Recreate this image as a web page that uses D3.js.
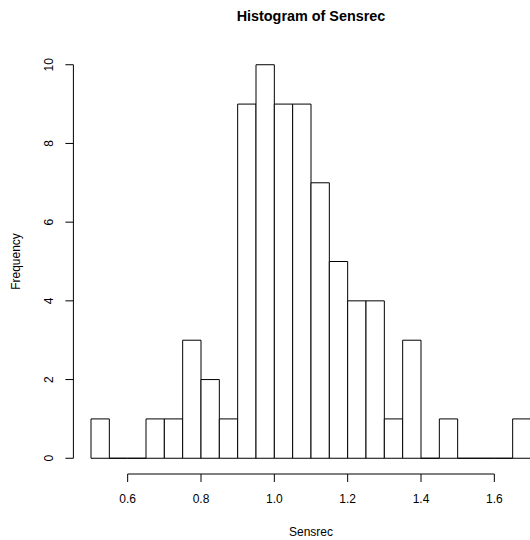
<!DOCTYPE html>
<html>
<head>
<meta charset="utf-8">
<script src="https://cdn.jsdelivr.net/npm/d3@7"></script>
<style>
html,body{margin:0;padding:0;background:#fff;}
svg{display:block;font-family:"Liberation Sans",Arial,Helvetica,sans-serif;}
</style>
</head>
<body>
<script>
// Data
const binStarts = [0.50,0.55,0.60,0.65,0.70,0.75,0.80,0.85,0.90,0.95,1.00,1.05,1.10,1.15,1.20,1.25,1.30,1.35,1.40,1.45,1.50,1.55,1.60,1.65];
const binWidth = 0.05;
const counts =    [1,   0,   0,   1,   1,   3,   2,   1,   9,   10,  9,   9,   7,   5,   4,   4,   1,   3,   0,   1,   0,   0,   0,   1];
const xTicks = [0.6,0.8,1.0,1.2,1.4,1.6];
const yTicks = [0,2,4,6,8,10];
const title = "Histogram of Sensrec";
const xLabel = "Sensrec";
const yLabel = "Frequency";

const W = 530, H = 540;
const svg = d3.select("body").append("svg").attr("width", W).attr("height", H);

const xs = d3.scaleLinear().domain([0.452, 1.748]).range([73.4, 548.6]);
const ys = d3.scaleLinear().domain([-0.4, 10.4]).range([474, 49]);

const bins = binStarts.map((s,i)=>({x0:s, x1:s+binWidth, n:counts[i]}));

// bars drawn as closed paths so zero-height bins still show on the baseline
svg.append("g").selectAll("path").data(bins).join("path")
  .attr("d", d=>{
    const p = d3.path();
    const xa = xs(d.x0), xb = xs(d.x1), y0 = ys(0), y1 = ys(d.n);
    p.moveTo(xa, y0); p.lineTo(xa, y1); p.lineTo(xb, y1); p.lineTo(xb, y0); p.closePath();
    return p.toString();
  })
  .attr("fill", "#fff")
  .attr("stroke", "#000")
  .attr("stroke-width", 1);

// x axis (R style)
const xAxis = svg.append("g").attr("transform","translate(0,474)");
xAxis.append("line").attr("x1", xs(xTicks[0])).attr("x2", xs(xTicks[xTicks.length-1]))
  .attr("y1",0).attr("y2",0).attr("stroke","#000");
xAxis.selectAll("line.t").data(xTicks).join("line").attr("class","t")
  .attr("x1",d=>xs(d)).attr("x2",d=>xs(d)).attr("y1",0).attr("y2",8).attr("stroke","#000");
xAxis.selectAll("text").data(xTicks).join("text")
  .attr("x",d=>xs(d)).attr("y",25).attr("dy","0.35em")
  .attr("text-anchor","middle").attr("font-size",12).attr("fill","#000")
  .text(d=>d.toFixed(1));

// y axis
const yAxis = svg.append("g").attr("transform","translate(73.4,0)");
yAxis.append("line").attr("x1",0).attr("x2",0)
  .attr("y1", ys(yTicks[0])).attr("y2", ys(yTicks[yTicks.length-1])).attr("stroke","#000");
yAxis.selectAll("line.t").data(yTicks).join("line").attr("class","t")
  .attr("x1",0).attr("x2",-8).attr("y1",d=>ys(d)).attr("y2",d=>ys(d)).attr("stroke","#000");
yAxis.selectAll("text").data(yTicks).join("text")
  .attr("transform",d=>`translate(-24.5,${ys(d)}) rotate(-90)`)
  .attr("dy","0.35em").attr("text-anchor","middle").attr("font-size",12).attr("fill","#000")
  .text(d=>d);

// titles
const cx = (73.4+548.6)/2;
svg.append("text").attr("x",cx).attr("y",16).attr("dy","0.35em")
  .attr("text-anchor","middle").attr("font-size",14.4).attr("font-weight","bold").attr("fill","#000")
  .text(title);
svg.append("text").attr("x",cx).attr("y",532).attr("dy","0.35em")
  .attr("text-anchor","middle").attr("font-size",12).attr("fill","#000")
  .text(xLabel);
svg.append("text").attr("transform",`translate(16,${(49+474)/2}) rotate(-90)`)
  .attr("dy","0.35em").attr("text-anchor","middle").attr("font-size",12).attr("fill","#000")
  .text(yLabel);
</script>
</body>
</html>
